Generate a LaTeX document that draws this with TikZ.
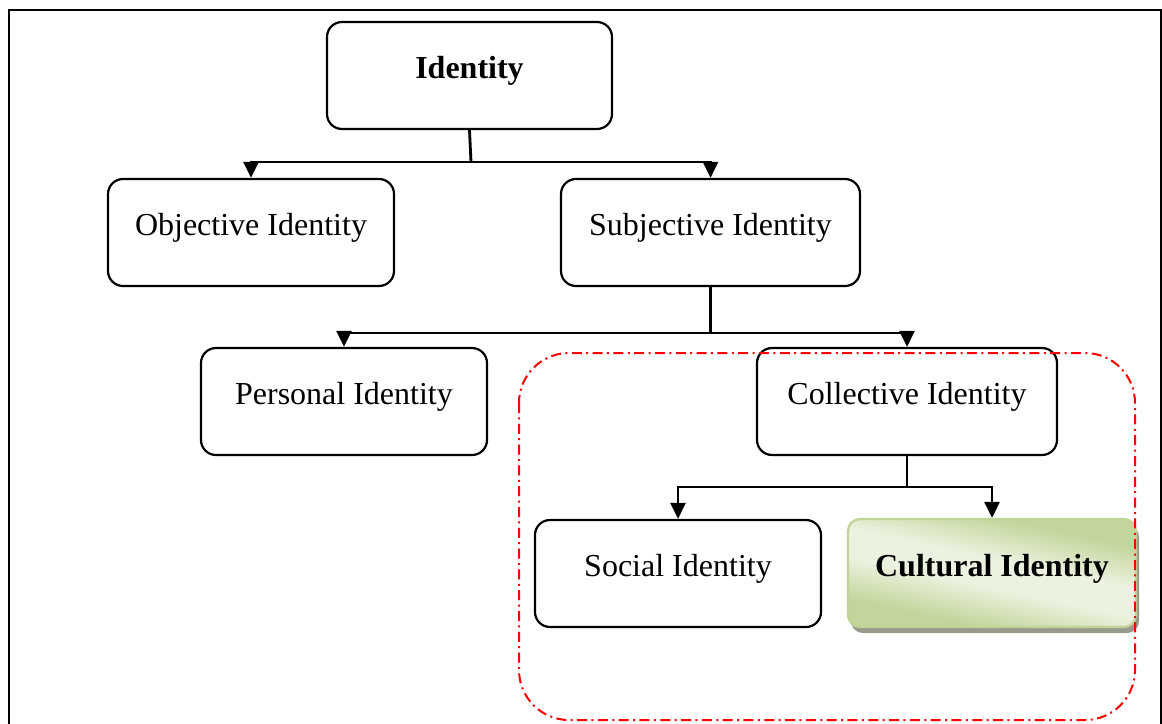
\documentclass[tikz,border=0pt]{standalone}
\usepackage{fontspec}
\setmainfont{Liberation Serif}
\usetikzlibrary{arrows.meta,shadows}

\definecolor{cultedge}{RGB}{192,212,152}
\definecolor{cultlight}{RGB}{236,242,224}
\definecolor{cultdark}{RGB}{194,213,154}
\definecolor{shadowgray}{RGB}{150,155,140}
\definecolor{groupred}{RGB}{255,0,0}

% soft diagonal band for the highlighted box
\pgfdeclareverticalshading{cultshade}{100bp}{%
  color(0bp)=(cultdark); color(30bp)=(cultdark); color(45bp)=(cultlight);
  color(55bp)=(cultlight); color(70bp)=(cultdark); color(100bp)=(cultdark)}

\tikzset{
  idbox/.style={draw=black, line width=1.1pt, rounded corners=7.5pt, fill=white,
    minimum height=53.5pt, inner sep=0pt, text height=11pt, text depth=8pt,
    font=\fontsize{16}{19}\selectfont},
  conn/.style={line width=1.4pt},
  arr/.style={conn, -{Triangle[length=8pt,width=7.5pt]}},
  groupbox/.style={draw=groupred, line width=1pt, rounded corners=25pt,
    dash pattern=on 5pt off 2.2pt on 1pt off 2.2pt},
  frame/.style={draw=black, line width=1.2pt},
}

\begin{document}
\begin{tikzpicture}[x=0.5pt, y=-0.5pt]
  \useasboundingbox (0,0) rectangle (1162,723);
  \clip (0,0) rectangle (1162,723);

  % outer frame (runs past the lower edge)
  \draw[frame] (9,740) -- (9,10) -- (1161,10) -- (1161,740);

  % boxes
  \node[idbox, minimum width=142.5pt, font=\fontsize{16}{19}\selectfont\bfseries]
    (id) at (469.5,75.5) {Identity};
  \node[idbox, minimum width=143pt] (obj) at (251,232.5) {Objective Identity};
  \node[idbox, minimum width=149.5pt] (subj) at (710.5,232.5) {Subjective Identity};
  \node[idbox, minimum width=143pt] (pers) at (344,401.5) {Personal Identity};
  \node[idbox, minimum width=150pt] (coll) at (907,401.5) {Collective Identity};
  \node[idbox, minimum width=143pt] (soc) at (678,573.5) {Social Identity};
  \node[idbox, minimum width=144pt, minimum height=54pt, rounded corners=6pt,
    draw=cultedge, shading=cultshade, shading angle=-12,
    drop shadow={opacity=1, fill=shadowgray, shadow xshift=1.5pt, shadow yshift=-3pt},
    font=\fontsize{16}{19}\selectfont\bfseries]
    (cult) at (992,573) {Cultural Identity};

  % connectors
  \coordinate (j1) at (471,162);
  \draw[conn] (id.south) -- (j1);
  \draw[arr] (j1) -| (obj.north);
  \draw[arr] (j1) -| (subj.north);

  \coordinate (j2) at (710.5,333);
  \draw[conn] (subj.south) -- (j2);
  \draw[arr] (j2) -| (pers.north);
  \draw[arr] (j2) -| (coll.north);

  \coordinate (j3) at (907,487);
  \draw[conn] (coll.south) -- (j3);
  \draw[arr] (j3) -| (soc.north);
  \draw[arr] (j3) -| (cult.north);

  % dash-dotted group outline
  \draw[groupbox] (519,353) rectangle (1135,720);
\end{tikzpicture}
\end{document}
